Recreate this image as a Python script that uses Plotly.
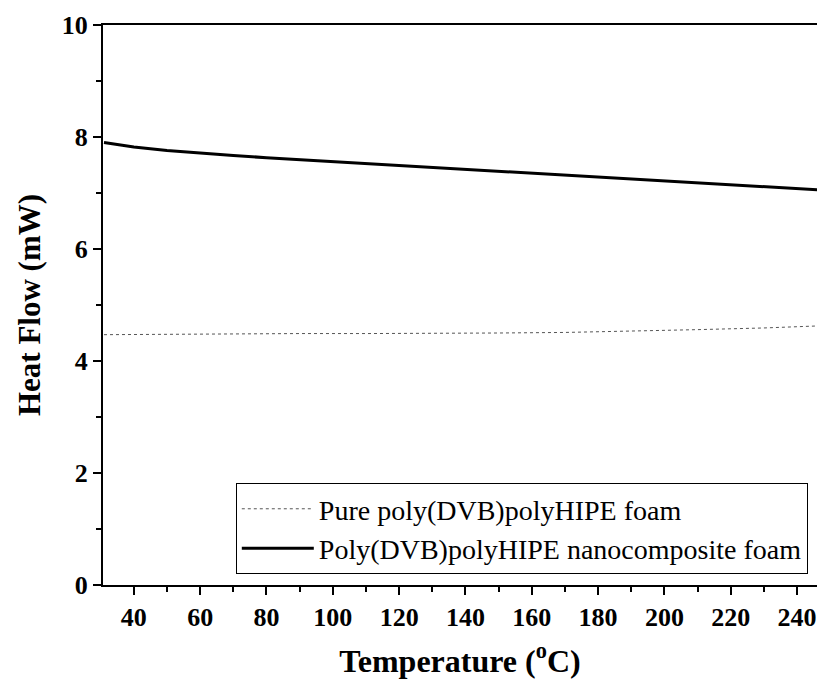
import plotly.graph_objects as go

temp_pure = [31, 50, 70, 90, 110, 130, 150, 170, 190, 210, 230, 248]
hf_pure = [4.47, 4.48, 4.49, 4.49, 4.49, 4.49, 4.50, 4.51, 4.53, 4.56, 4.59, 4.63]

temp_nano = [31, 40, 50, 60, 70, 80, 100, 120, 140, 160, 180, 200, 220, 240, 248]
hf_nano = [7.90, 7.82, 7.76, 7.71, 7.67, 7.63, 7.56, 7.49, 7.42, 7.35, 7.29, 7.22, 7.15, 7.08, 7.05]

x_major = [40, 60, 80, 100, 120, 140, 160, 180, 200, 220, 240]
x_minor = [50, 70, 90, 110, 130, 150, 170, 190, 210, 230]
y_major = [0, 2, 4, 6, 8, 10]
y_minor = [1, 3, 5, 7, 9]

font_family = "Liberation Serif"

fig = go.Figure()
fig.add_trace(go.Scatter(x=temp_pure, y=hf_pure, mode="lines",
                         name="Pure poly(DVB)polyHIPE foam",
                         line=dict(color="#555555", width=1, dash="dot")))
fig.add_trace(go.Scatter(x=temp_nano, y=hf_nano, mode="lines",
                         name="Poly(DVB)polyHIPE nanocomposite foam",
                         line=dict(color="black", width=3)))

fig.update_layout(
    width=809, height=672,
    margin=dict(l=95, r=0, t=17, b=95),
    paper_bgcolor="white", plot_bgcolor="white",
    font=dict(family=font_family, color="black"),
    showlegend=True,
    legend=dict(x=0.186, y=0.182, xanchor="left", yanchor="top",
                bordercolor="black", borderwidth=1, bgcolor="white",
                font=dict(size=28, family=font_family), tracegroupgap=0,
                itemwidth=72),
    xaxis=dict(range=[30.7, 246], tickmode="array", tickvals=x_major,
               ticks="outside", ticklen=8, tickwidth=2, tickcolor="black",
               showline=True, linewidth=2, linecolor="black", mirror=True,
               showgrid=False, zeroline=False, ticklabeloverflow="allow",
               tickfont=dict(size=26, family=font_family, weight="bold"),
               minor=dict(tickvals=x_minor,
                          ticks="outside", ticklen=5, tickwidth=2, tickcolor="black"),
               title=dict(text="Temperature (<sup>o</sup>C)", standoff=18,
                          font=dict(size=32, family=font_family, weight="bold"))),
    yaxis=dict(range=[0, 10], tickmode="array", tickvals=y_major,
               ticks="outside", ticklen=8, tickwidth=2, tickcolor="black",
               showline=True, linewidth=2, linecolor="black", mirror=False,
               showgrid=False, zeroline=False,
               tickfont=dict(size=26, family=font_family, weight="bold"),
               minor=dict(tickvals=y_minor,
                          ticks="outside", ticklen=5, tickwidth=2, tickcolor="black"),
               title=dict(text="Heat Flow (mW)", standoff=12,
                          font=dict(size=31, family=font_family, weight="bold"))),
)

fig.write_html("out.html")
